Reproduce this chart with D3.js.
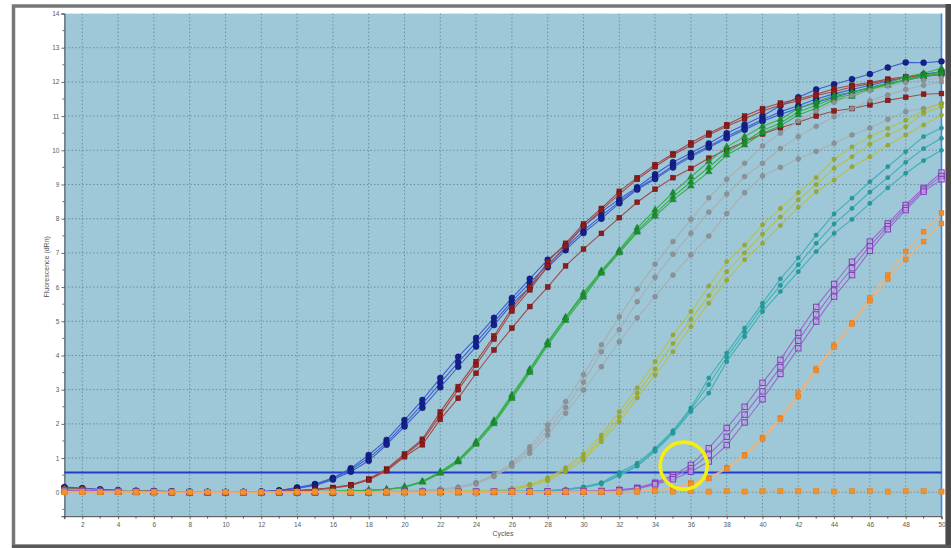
<!DOCTYPE html>
<html><head><meta charset="utf-8">
<script src="https://cdn.jsdelivr.net/npm/d3@7"></script>
<style>
html,body{margin:0;padding:0;background:#fff;}
svg{display:block;}
</style></head>
<body>
<svg id="chart" width="951" height="548"></svg>
<script>
// ---------- data ----------
const cycles = d3.range(1, 51);
const xTicks = [2,4,6,8,10,12,14,16,18,20,22,24,26,28,30,32,34,36,38,40,42,44,46,48,50];
const yTicks = [0,1,2,3,4,5,6,7,8,9,10,11,12,13,14];
const threshold = 0.58;

const blue1 = [0.15,0.12,0.08,0.06,0.04,0.03,0.02,0.02,0.01,0.01,0.01,0.02,0.05,0.14,0.24,0.42,0.70,1.09,1.53,2.11,2.70,3.34,3.96,4.51,5.10,5.68,6.24,6.80,7.22,7.78,8.20,8.57,8.92,9.30,9.65,9.92,10.20,10.50,10.75,11.00,11.30,11.55,11.78,11.93,12.08,12.23,12.42,12.57,12.56,12.60];
const blue2 = [0.14,0.11,0.08,0.05,0.04,0.03,0.02,0.01,0.01,0.01,0.01,0.02,0.05,0.13,0.22,0.40,0.66,1.00,1.45,2.00,2.58,3.20,3.80,4.38,4.98,5.58,6.12,6.65,7.15,7.65,8.08,8.50,8.88,9.20,9.55,9.85,10.12,10.40,10.65,10.90,11.13,11.30,11.50,11.65,11.78,11.90,12.02,12.12,12.22,12.30];
const blue3 = [0.13,0.10,0.07,0.05,0.03,0.02,0.02,0.01,0.01,0.00,0.01,0.01,0.04,0.11,0.20,0.37,0.60,0.92,1.39,1.92,2.47,3.07,3.67,4.26,4.89,5.50,6.00,6.58,7.08,7.58,8.00,8.45,8.85,9.16,9.50,9.80,10.08,10.35,10.60,10.85,11.05,11.23,11.40,11.55,11.70,11.82,11.95,12.05,12.15,12.22];

const red1 = [0.12,0.10,0.07,0.05,0.04,0.03,0.02,0.01,0.01,0.01,0.00,0.01,0.02,0.05,0.09,0.14,0.22,0.39,0.68,1.12,1.55,2.35,3.09,3.82,4.57,5.39,6.00,6.74,7.28,7.85,8.30,8.80,9.20,9.58,9.90,10.22,10.50,10.75,11.00,11.22,11.38,11.50,11.64,11.80,11.90,11.98,12.08,12.15,12.18,12.22];
const red2 = [0.11,0.09,0.07,0.05,0.03,0.02,0.02,0.01,0.01,0.00,0.00,0.01,0.02,0.04,0.08,0.13,0.21,0.37,0.66,1.08,1.50,2.25,3.00,3.72,4.48,5.30,5.92,6.62,7.20,7.78,8.25,8.72,9.15,9.52,9.86,10.15,10.45,10.70,10.92,11.15,11.32,11.45,11.60,11.72,11.85,11.95,12.05,12.12,12.20,12.28];
const red3 = [0.10,0.08,0.06,0.04,0.03,0.02,0.01,0.01,0.00,0.00,0.00,0.01,0.02,0.04,0.07,0.12,0.20,0.36,0.63,1.04,1.39,2.13,2.75,3.48,4.16,4.80,5.43,6.00,6.62,7.11,7.57,8.03,8.48,8.86,9.20,9.47,9.77,10.02,10.25,10.48,10.66,10.82,11.00,11.15,11.22,11.33,11.46,11.55,11.64,11.66];

const green1 = [0.10,0.08,0.05,0.04,0.03,0.02,0.01,0.01,0.00,0.00,0.00,0.00,0.01,0.01,0.02,0.03,0.04,0.06,0.09,0.16,0.32,0.60,0.95,1.48,2.10,2.85,3.60,4.40,5.12,5.83,6.48,7.08,7.73,8.26,8.76,9.22,9.67,10.10,10.40,10.70,10.90,11.23,11.42,11.60,11.70,11.84,11.96,12.15,12.25,12.40];
const green2 = [0.09,0.07,0.05,0.04,0.03,0.02,0.01,0.01,0.00,0.00,0.00,0.00,0.01,0.01,0.02,0.03,0.04,0.06,0.08,0.15,0.31,0.58,0.92,1.45,2.06,2.80,3.56,4.36,5.09,5.77,6.45,7.04,7.65,8.15,8.64,9.08,9.50,9.95,10.25,10.58,10.80,11.12,11.32,11.52,11.63,11.80,11.92,12.08,12.18,12.30];
const green3 = [0.08,0.06,0.05,0.03,0.02,0.02,0.01,0.00,0.00,0.00,0.00,0.00,0.00,0.01,0.01,0.02,0.03,0.05,0.08,0.14,0.29,0.55,0.88,1.40,2.00,2.74,3.50,4.30,5.02,5.70,6.40,7.00,7.60,8.07,8.55,8.95,9.37,9.86,10.15,10.50,10.72,11.03,11.23,11.47,11.57,11.78,11.90,12.06,12.15,12.25];

const gray1 = [0.09,0.07,0.05,0.04,0.03,0.02,0.01,0.01,0.00,0.00,0.00,0.00,0.00,0.01,0.01,0.01,0.02,0.02,0.03,0.04,0.06,0.09,0.15,0.28,0.52,0.85,1.33,1.97,2.65,3.44,4.31,5.13,5.94,6.67,7.33,7.98,8.61,9.15,9.62,10.13,10.50,10.85,11.15,11.40,11.60,11.75,11.88,11.98,12.05,12.12];
const gray2 = [0.08,0.06,0.05,0.03,0.02,0.02,0.01,0.00,0.00,0.00,0.00,0.00,0.00,0.01,0.01,0.01,0.02,0.02,0.03,0.04,0.05,0.08,0.14,0.26,0.49,0.80,1.25,1.82,2.48,3.22,4.11,4.75,5.57,6.29,6.96,7.57,8.19,8.72,9.23,9.62,10.05,10.40,10.70,10.98,11.22,11.45,11.62,11.78,11.90,12.00];
const gray3 = [0.08,0.06,0.04,0.03,0.02,0.01,0.01,0.00,0.00,0.00,0.00,0.00,0.00,0.00,0.01,0.01,0.01,0.02,0.02,0.03,0.05,0.07,0.13,0.24,0.46,0.76,1.14,1.67,2.31,2.99,3.67,4.40,5.10,5.72,6.35,6.94,7.49,8.15,8.76,9.25,9.50,9.75,9.97,10.20,10.45,10.65,10.90,11.13,11.22,11.37];

const olive1 = [0.08,0.06,0.05,0.04,0.03,0.02,0.01,0.01,0.00,0.00,0.00,0.00,0.00,0.00,0.01,0.01,0.01,0.01,0.02,0.02,0.02,0.03,0.03,0.04,0.05,0.11,0.23,0.42,0.72,1.12,1.67,2.36,3.05,3.82,4.60,5.28,6.03,6.74,7.23,7.82,8.30,8.76,9.20,9.74,10.10,10.40,10.64,10.88,11.17,11.37];
const olive2 = [0.07,0.06,0.04,0.03,0.02,0.02,0.01,0.00,0.00,0.00,0.00,0.00,0.00,0.00,0.00,0.01,0.01,0.01,0.01,0.02,0.02,0.02,0.03,0.03,0.04,0.10,0.21,0.38,0.67,1.02,1.57,2.20,2.90,3.60,4.35,5.05,5.75,6.45,7.00,7.55,8.05,8.55,9.00,9.47,9.81,10.18,10.45,10.69,11.08,11.27];
const olive3 = [0.07,0.05,0.04,0.03,0.02,0.01,0.01,0.00,0.00,0.00,0.00,0.00,0.00,0.00,0.00,0.00,0.01,0.01,0.01,0.01,0.02,0.02,0.02,0.03,0.03,0.08,0.18,0.33,0.60,0.94,1.48,2.06,2.76,3.43,4.11,4.84,5.53,6.20,6.80,7.28,7.80,8.33,8.79,9.13,9.52,9.81,10.15,10.45,10.74,11.03];

const teal1 = [0.07,0.05,0.04,0.03,0.02,0.01,0.01,0.00,0.00,0.00,0.00,0.00,0.00,0.00,0.00,0.01,0.01,0.01,0.01,0.01,0.02,0.02,0.02,0.02,0.03,0.03,0.03,0.05,0.09,0.16,0.28,0.58,0.85,1.28,1.80,2.47,3.34,4.07,4.80,5.53,6.24,6.85,7.52,8.14,8.60,9.08,9.52,9.96,10.40,10.65];
const teal2 = [0.06,0.05,0.04,0.03,0.02,0.01,0.00,0.00,0.00,0.00,0.00,0.00,0.00,0.00,0.00,0.00,0.01,0.01,0.01,0.01,0.01,0.02,0.02,0.02,0.02,0.03,0.03,0.04,0.08,0.15,0.26,0.52,0.80,1.24,1.76,2.42,3.15,3.95,4.68,5.42,6.05,6.65,7.28,7.85,8.30,8.78,9.20,9.65,10.05,10.35];
const teal3 = [0.06,0.04,0.03,0.02,0.02,0.01,0.00,0.00,0.00,0.00,0.00,0.00,0.00,0.00,0.00,0.00,0.00,0.01,0.01,0.01,0.01,0.01,0.02,0.02,0.02,0.02,0.03,0.03,0.07,0.13,0.24,0.48,0.76,1.20,1.72,2.36,2.90,3.82,4.55,5.28,5.87,6.45,7.04,7.57,7.98,8.45,8.90,9.33,9.70,10.00];

const purple1 = [0.06,0.05,0.04,0.03,0.02,0.01,0.01,0.00,0.00,0.00,0.00,0.00,0.00,0.00,0.00,0.00,0.00,0.01,0.01,0.01,0.01,0.01,0.01,0.02,0.02,0.02,0.02,0.02,0.03,0.03,0.04,0.07,0.13,0.28,0.50,0.80,1.29,1.88,2.50,3.20,3.87,4.66,5.42,6.09,6.74,7.33,7.86,8.40,8.90,9.35];
const purple2 = [0.05,0.04,0.03,0.02,0.02,0.01,0.00,0.00,0.00,0.00,0.00,0.00,0.00,0.00,0.00,0.00,0.00,0.00,0.01,0.01,0.01,0.01,0.01,0.01,0.02,0.02,0.02,0.02,0.02,0.03,0.03,0.06,0.12,0.26,0.44,0.70,1.10,1.62,2.27,2.95,3.66,4.43,5.20,5.90,6.55,7.20,7.78,8.32,8.85,9.25];
const purple3 = [0.05,0.04,0.03,0.02,0.01,0.01,0.00,0.00,0.00,0.00,0.00,0.00,0.00,0.00,0.00,0.00,0.00,0.00,0.00,0.01,0.01,0.01,0.01,0.01,0.01,0.02,0.02,0.02,0.02,0.02,0.03,0.05,0.10,0.23,0.38,0.60,0.90,1.38,2.04,2.72,3.46,4.21,4.99,5.72,6.35,7.06,7.69,8.25,8.79,9.15];

const orange1 = [0.02,0.02,0.01,0.01,0.01,0.00,0.00,0.00,0.00,0.00,0.00,0.00,0.00,0.00,0.00,0.00,0.00,0.00,0.00,0.00,0.00,0.00,0.00,0.01,0.01,0.01,0.01,0.01,0.01,0.01,0.01,0.02,0.03,0.06,0.13,0.27,0.42,0.72,1.10,1.60,2.18,2.90,3.62,4.30,4.96,5.68,6.35,7.04,7.62,8.17];
const orange2 = [0.01,0.01,0.01,0.01,0.00,0.00,0.00,0.00,0.00,0.00,0.00,0.00,0.00,0.00,0.00,0.00,0.00,0.00,0.00,0.00,0.00,0.00,0.00,0.00,0.01,0.01,0.01,0.01,0.01,0.01,0.01,0.01,0.02,0.05,0.11,0.24,0.40,0.68,1.07,1.56,2.14,2.80,3.56,4.25,4.92,5.60,6.23,6.81,7.33,7.86];
const orangeNtc = [0.00,0.01,0.01,0.01,0.00,0.01,0.00,0.00,0.01,0.01,0.00,0.00,0.01,0.01,0.02,0.02,0.01,0.01,0.02,0.01,0.01,0.02,0.02,0.01,0.02,0.02,0.02,0.01,0.02,0.02,0.02,0.02,0.02,0.03,0.02,0.03,0.02,0.03,0.02,0.03,0.03,0.03,0.03,0.02,0.03,0.03,0.02,0.03,0.03,0.02];

const groups = [
  {name:"blue",   series:[blue1,blue2,blue3],       line:"#3e5ed0", fill:"#14208c", stroke:"#0c1466", shape:"circle",   size:3.0},
  {name:"red",    series:[red1,red2,red3],          line:"#a44848", fill:"#8e1c1c", stroke:"#6c1010", shape:"square",   size:4.8},
  {name:"green",  series:[green1,green2,green3],    line:"#34ae48", fill:"#1d8e30", stroke:"#14762a", shape:"triangle", size:4.6},
  {name:"gray",   series:[gray1,gray2,gray3],       line:"#a9aeb2", fill:"#8e9296", stroke:"#7a7e82", shape:"circle",   size:2.4},
  {name:"olive",  series:[olive1,olive2,olive3],    line:"#b8c04a", fill:"#98a836", stroke:"#8a9a2e", shape:"circle",   size:2.1},
  {name:"teal",   series:[teal1,teal2,teal3],       line:"#3fb0b4", fill:"#259a9c", stroke:"#1d8a8c", shape:"circle",   size:2.1},
  {name:"purple", series:[purple1,purple2,purple3], line:"#9a68cc", fill:"#c8aee2", stroke:"#7e3eb8", shape:"osquare",  size:5.4},
  {name:"orange", series:[orange1,orange2],         line:"#f2b27a", fill:"#f08c2c", stroke:"#e07818", shape:"square",   size:4.8},
  {name:"ntc",    series:[orangeNtc],               line:"#f2a866", fill:"#f0922e", stroke:"#e27e1c", shape:"square",   size:5.2}
];

// ---------- layout ----------
const svg = d3.select("#chart");
const x = d3.scaleLinear().domain([1, 50]).range([64.4, 941.5]);
const y = d3.scaleLinear().domain([-0.7, 14]).range([516.2, 13.5]);
const [x0, x1] = x.range();
const [yb, yt] = y.range();

// outer frame
svg.append("rect").attr("x",0).attr("y",0).attr("width",951).attr("height",548).attr("fill","#fff");
svg.append("rect").attr("x",13.5).attr("y",6).attr("width",934).attr("height",540)
  .attr("fill","none").attr("stroke","#777").attr("stroke-width",3.5);
svg.append("rect").attr("x",945.5).attr("y",4).attr("width",5.5).attr("height",544).attr("fill","#4a4a4a");
svg.append("rect").attr("x",12).attr("y",545).attr("width",939).attr("height",3).attr("fill","#5a5a5a");

// plot background
svg.append("rect").attr("x",x0).attr("y",yt).attr("width",x1-x0).attr("height",yb-yt).attr("fill","#9ec8d7");

// grid
const grid = svg.append("g");
grid.selectAll("line.v").data(xTicks.filter(d=>d<50)).join("line")
  .attr("x1",d=>x(d)).attr("x2",d=>x(d)).attr("y1",yt).attr("y2",yb)
  .attr("stroke","#5f8798").attr("stroke-width",0.9).attr("stroke-dasharray","1.4,2.2");
grid.selectAll("line.h").data(yTicks).join("line")
  .attr("x1",x0).attr("x2",x1).attr("y1",d=>y(d)).attr("y2",d=>y(d))
  .attr("stroke",d=>d===14?"#e8f2f6":"#5f8798").attr("stroke-width",0.9).attr("stroke-dasharray","1.4,2.2");

// right edge blue line
svg.append("line").attr("x1",x1).attr("x2",x1).attr("y1",yt).attr("y2",yb)
  .attr("stroke","#3d86e0").attr("stroke-width",1.6);

// axes
const axFont = "Arial, 'Liberation Sans', sans-serif";
const yAxis = d3.axisLeft(y).tickValues(yTicks).tickSize(3).tickPadding(2).tickFormat(d3.format("d"));
const gy = svg.append("g").attr("transform",`translate(${x0},0)`).call(yAxis);
const yMinor = d3.range(-0.5, 14, 1);
gy.selectAll("line.minor").data(yMinor).join("line").attr("class","minor")
  .attr("x1",-2).attr("x2",0).attr("y1",d=>y(d)).attr("y2",d=>y(d)).attr("stroke","#444").attr("stroke-width",0.8);
const xAxis = d3.axisBottom(x).tickValues(xTicks).tickSize(3).tickPadding(3).tickFormat(d3.format("d"));
const gx = svg.append("g").attr("transform",`translate(0,${yb})`).call(xAxis);
const xMinor = d3.range(1, 50, 2);
gx.selectAll("line.minor").data(xMinor).join("line").attr("class","minor")
  .attr("x1",d=>x(d)).attr("x2",d=>x(d)).attr("y1",0).attr("y2",2.5).attr("stroke","#444").attr("stroke-width",0.8);
[gx, gy].forEach(g => {
  g.select(".domain").attr("stroke","#444").attr("stroke-width",1);
  g.selectAll(".tick line").attr("stroke","#444").attr("stroke-width",0.8);
  g.selectAll("text").attr("fill","#5a5a5a").attr("font-size",6.5).attr("font-family",axFont);
});

svg.append("text").attr("x",(x0+x1)/2).attr("y",535.5).attr("text-anchor","middle")
  .attr("font-size",7).attr("font-family",axFont).attr("fill","#555").text("Cycles");
svg.append("text").attr("transform",`translate(49,${(yt+yb)/2 + 2}) rotate(-90)`).attr("text-anchor","middle")
  .attr("font-size",7).attr("font-family",axFont).attr("fill","#555").text("Fluorescence (dRn)");

// threshold line
svg.append("line").attr("x1",x0).attr("x2",x1).attr("y1",y(threshold)).attr("y2",y(threshold))
  .attr("stroke","#1f3ccc").attr("stroke-width",2);

// curves
const lineGen = d3.line().x((d,i)=>x(cycles[i])).y(d=>y(d));
const plot = svg.append("g");
function marker(sel, shape, s, g) {
  if (shape === "circle") {
    sel.append("circle").attr("r", s).attr("fill", g.fill).attr("stroke", g.stroke).attr("stroke-width", 0.5);
  } else if (shape === "square") {
    sel.append("rect").attr("x",-s/2).attr("y",-s/2).attr("width",s).attr("height",s)
      .attr("fill", g.fill).attr("stroke", g.stroke).attr("stroke-width", 0.5);
  } else if (shape === "osquare") {
    sel.append("rect").attr("x",-s/2).attr("y",-s/2).attr("width",s).attr("height",s)
      .attr("fill", g.fill).attr("fill-opacity",0.55).attr("stroke", g.stroke).attr("stroke-width", 1);
  } else if (shape === "triangle") {
    sel.append("path").attr("d", d3.symbol(d3.symbolTriangle, s*s*0.9)()).attr("fill", g.fill).attr("stroke", g.stroke).attr("stroke-width",0.4);
  }
}
groups.forEach(g => {
  g.series.forEach(vals => {
    const sg = plot.append("g");
    sg.append("path").attr("d", lineGen(vals)).attr("fill","none")
      .attr("stroke", g.line).attr("stroke-width", 1.1).attr("stroke-linejoin","round");
    sg.selectAll("g.m").data(vals).join("g").attr("class","m")
      .attr("transform",(d,i)=>`translate(${x(cycles[i])},${y(d)})`)
      .each(function(){ marker(d3.select(this), g.shape, g.size, g); });
  });
});

// highlight circle
svg.append("circle").attr("cx", x(35.6)).attr("cy", y(0.78)).attr("r", 23.5)
  .attr("fill","none").attr("stroke","#f6ee0c").attr("stroke-width",3.6);
</script>
</body></html>
